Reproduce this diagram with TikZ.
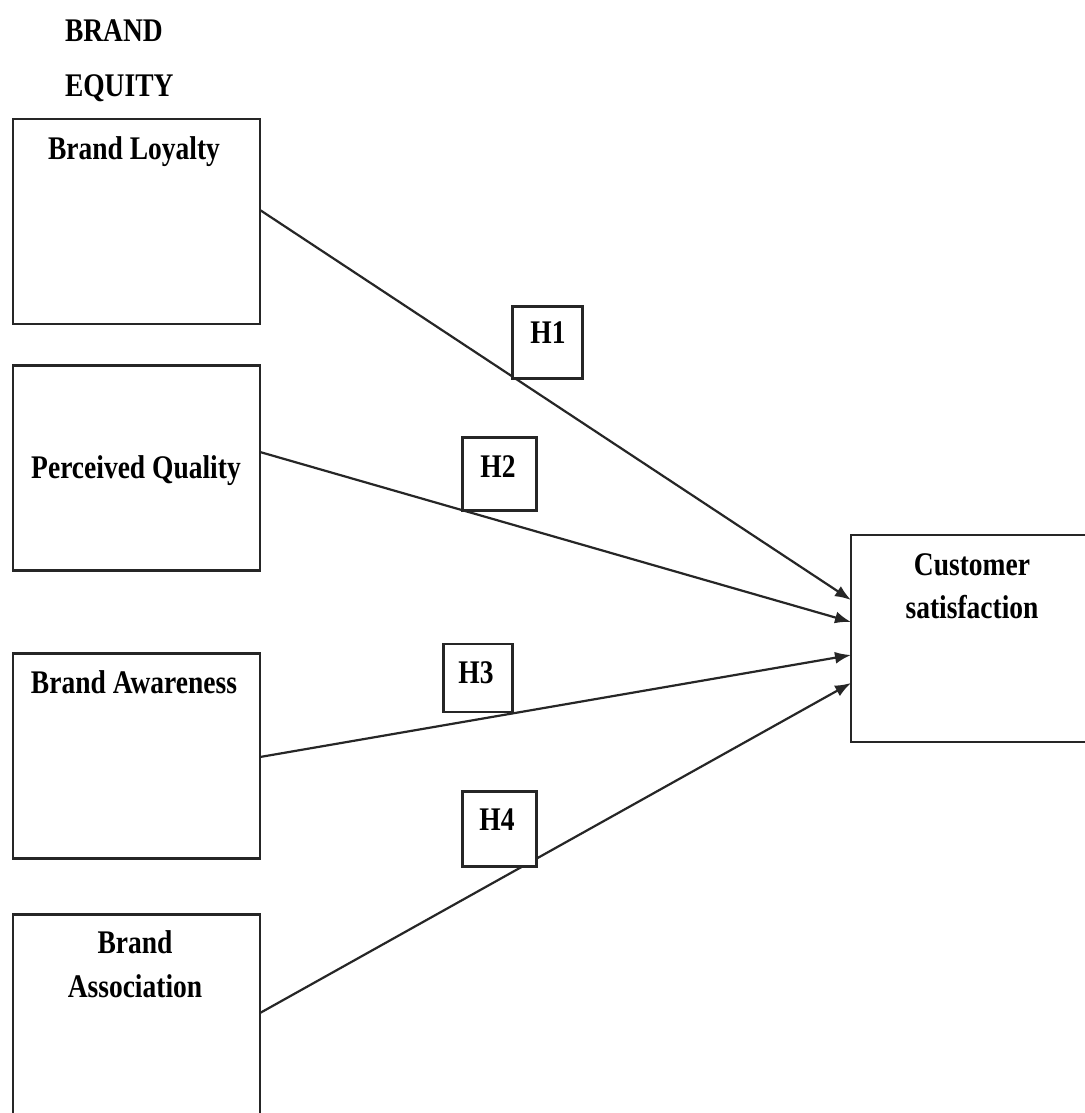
\documentclass[tikz,border=0pt]{standalone}
\usepackage{fontspec}
\setmainfont{Liberation Serif}
\usetikzlibrary{arrows.meta}
\newcommand{\tallbf}[1]{\scalebox{1}[1.2]{\bfseries #1}}
\begin{document}
\begin{tikzpicture}[x=1pt,y=-1pt,
  every node/.style={inner sep=0pt, outer sep=0pt},
  box/.style={draw=black!85, line width=2.4pt, rectangle, minimum width=247pt, minimum height=205pt},
  hbox/.style={draw=black!85, line width=2.4pt, rectangle},
  txt/.style={anchor=base, font=\fontsize{27.5}{33}\selectfont},
  link/.style={draw=black!85, line width=2.2pt, -{Latex[length=16pt,width=12pt]}}]
\useasboundingbox (0,0) rectangle (1084,1113);
\fill[white] (0,0) rectangle (1084,1113);

% heading
\node[txt, anchor=base west] (t1) at (65,42) {\tallbf{BRAND}};
\node[txt, anchor=base west] (t2) at (65,97) {\tallbf{EQUITY}};

% construct boxes
\node[box] (bl) at (136.5,221.5) {};
\node[box] (pq) at (136.5,468) {};
\node[box] (baw) at (136.5,756) {};
\node[box] (bas) at (136.5,1017) {};
\node[box, minimum width=240pt, minimum height=207pt] (cs) at (971,638.5) {};

\node[txt] (blt) at (134,159) {\tallbf{Brand Loyalty}};
\node[txt] (pqt) at (136,478) {\tallbf{Perceived Quality}};
\node[txt] (bawt) at (134,693) {\tallbf{Brand Awareness}};
\node[txt] (bast1) at (135,953) {\tallbf{Brand}};
\node[txt] (bast2) at (135,997) {\tallbf{Association}};
\node[txt] (cst1) at (972,575) {\tallbf{Customer}};
\node[txt] (cst2) at (972,618) {\tallbf{satisfaction}};

% hypothesis paths
\draw[link] ([yshift=11.5pt]bl.east) -- ([yshift=38.5pt]cs.west);
\draw[link] ([yshift=16pt]pq.east) -- ([yshift=16.5pt]cs.west);
\draw[link] ([yshift=-1pt]baw.east) -- ([yshift=-16.5pt]cs.west);
\draw[link] ([yshift=4pt]bas.east) -- ([yshift=-44.5pt]cs.west);

% hypothesis labels
\node[hbox, fill=white, minimum width=70pt, minimum height=72pt] (h1) at (547.5,342.5) {};
\node[hbox, fill=white, minimum width=74pt, minimum height=73pt] (h2) at (499.5,474) {};
\node[hbox, fill=white, minimum width=69pt, minimum height=68pt] (h3) at (478,678) {};
\node[hbox, fill=white, minimum width=74pt, minimum height=75pt] (h4) at (499.5,829) {};
\node[txt] (h1t) at (548,343) {\tallbf{H1}};
\node[txt] (h2t) at (498,477) {\tallbf{H2}};
\node[txt] (h3t) at (476,683) {\tallbf{H3}};
\node[txt] (h4t) at (497,830) {\tallbf{H4}};
\end{tikzpicture}
\end{document}
